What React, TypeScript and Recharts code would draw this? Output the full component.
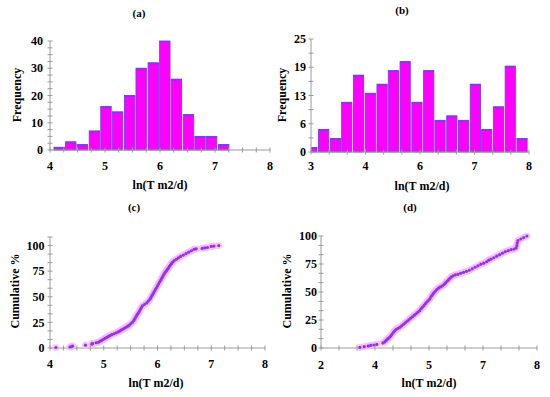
import React from 'react';
import { ComposedChart, ScatterChart, Bar, Scatter, XAxis, YAxis } from 'recharts';

// ---------- data ----------
const titles = ['(a)', '(b)', '(c)', '(d)'];
const xTitle = 'ln(T m2/d)';
const yTitleHist = 'Frequency';
const yTitleCum = 'Cumulative %';

const histACenters = [4.16, 4.37, 4.58, 4.8, 5.01, 5.22, 5.44, 5.65, 5.87, 6.08, 6.29, 6.51, 6.72, 6.93, 7.15];
const histACounts = [1, 3, 2, 7, 16, 14, 20, 30, 32, 40, 26, 13, 5, 5, 2];

const histBCenters = [3.01, 3.28, 3.55, 3.81, 4.08, 4.35, 4.62, 4.88, 5.15, 5.42, 5.69, 5.95, 6.22, 6.49, 6.76, 7.02, 7.29, 7.56, 7.83];
const histBCounts = [1, 5, 3, 11, 17, 13, 15, 18, 20, 11, 18, 7, 8, 7, 15, 5, 10, 19, 3];

const cumCX = [4.11, 4.37, 4.4, 4.42, 4.66, 4.78, 4.79, 4.86, 4.9, 4.93, 4.96, 4.99, 5.02, 5.05, 5.08, 5.11, 5.15, 5.19, 5.23, 5.27, 5.3, 5.33, 5.36, 5.39, 5.42, 5.45, 5.47, 5.5, 5.53, 5.56, 5.58, 5.6, 5.62, 5.64, 5.66, 5.68, 5.7, 5.72, 5.76, 5.8, 5.83, 5.86, 5.88, 5.9, 5.92, 5.94, 5.96, 5.98, 6.0, 6.02, 6.04, 6.06, 6.08, 6.1, 6.12, 6.14, 6.16, 6.18, 6.2, 6.22, 6.24, 6.26, 6.28, 6.31, 6.35, 6.39, 6.43, 6.48, 6.53, 6.58, 6.63, 6.68, 6.72, 6.83, 6.88, 6.93, 7.0, 7.05, 7.14];
const cumCY = [0.5, 1.0, 1.4, 1.9, 2.8, 3.7, 4.6, 5.1, 5.6, 6.5, 7.4, 8.3, 9.3, 10.2, 11.1, 12.0, 13.0, 13.9, 14.8, 15.7, 16.7, 17.6, 18.5, 19.4, 20.4, 21.3, 22.2, 23.6, 25.0, 26.9, 28.7, 30.6, 32.4, 33.8, 35.6, 37.5, 39.4, 41.2, 42.6, 44.0, 45.8, 47.7, 49.5, 51.4, 53.2, 55.1, 56.9, 58.8, 60.6, 62.5, 64.4, 66.2, 68.1, 70.0, 71.8, 73.6, 75.0, 76.4, 77.8, 79.6, 81.0, 82.4, 83.8, 85.2, 86.6, 88.0, 89.4, 90.7, 92.1, 93.5, 94.9, 96.3, 96.8, 97.2, 97.7, 98.1, 99.1, 99.5, 100];

const cumDX = [3.08, 3.2, 3.31, 3.38, 3.47, 3.55, 3.72, 3.77, 3.81, 3.85, 3.89, 3.93, 3.97, 4.01, 4.05, 4.09, 4.14, 4.19, 4.24, 4.29, 4.34, 4.39, 4.44, 4.49, 4.54, 4.59, 4.64, 4.69, 4.74, 4.78, 4.82, 4.86, 4.9, 4.94, 4.98, 5.02, 5.05, 5.08, 5.11, 5.14, 5.18, 5.22, 5.27, 5.32, 5.37, 5.42, 5.46, 5.5, 5.54, 5.58, 5.62, 5.67, 5.73, 5.8, 5.88, 5.96, 6.04, 6.12, 6.2, 6.28, 6.36, 6.44, 6.52, 6.6, 6.66, 6.72, 6.8, 6.88, 6.96, 7.04, 7.12, 7.2, 7.28, 7.36, 7.42, 7.44, 7.45, 7.47, 7.55, 7.63, 7.72];
const cumDY = [0.5, 1.2, 1.8, 2.3, 2.7, 3.2, 4.5, 5.4, 6.8, 8.1, 9.0, 10.4, 12.2, 14.0, 15.3, 16.7, 17.6, 18.5, 19.8, 21.2, 22.5, 23.9, 25.2, 26.6, 27.9, 29.3, 30.6, 32.0, 33.3, 35.1, 36.5, 37.8, 39.6, 41.0, 42.3, 43.7, 45.5, 46.8, 48.2, 49.5, 50.9, 52.3, 53.6, 54.5, 55.4, 56.8, 58.1, 59.5, 60.8, 62.2, 63.5, 64.4, 65.3, 65.8, 66.7, 67.6, 68.5, 69.4, 70.7, 72.1, 73.4, 74.8, 75.7, 77.0, 78.4, 79.3, 80.6, 82.0, 83.3, 84.7, 86.0, 86.9, 87.8, 88.3, 89.2, 91.4, 93.7, 95.9, 97.3, 98.6, 100];

// ticks (all tick marks) and labelled ticks
const aXTicks = [4, 4.25, 4.5, 4.75, 5, 5.25, 5.5, 5.75, 6, 6.25, 6.5, 6.75, 7, 7.25, 7.5, 7.75, 8];
const aXLabels = [4, 5, 6, 7, 8];
const aYTicks = [0, 2.5, 5, 7.5, 10, 12.5, 15, 17.5, 20, 22.5, 25, 27.5, 30, 32.5, 35, 37.5, 40];
const aYLabels = [0, 10, 20, 30, 40];

const bXTicks = [3, 3.4167, 3.8333, 4.25, 4.6667, 5.0833, 5.5, 5.9167, 6.3333, 6.75, 7.1667, 7.5833, 8];
const bXLabels = [3, 4.25, 5.5, 6.75, 8];
const bYTicks = [0, 3.125, 6.25, 9.375, 12.5, 15.625, 18.75, 21.875, 25];
const bYLabels = [0, 6.25, 12.5, 18.75, 25];

const cXTicks = [4, 4.25, 4.5, 4.75, 5, 5.25, 5.5, 5.75, 6, 6.25, 6.5, 6.75, 7, 7.25, 7.5, 7.75, 8];
const cXLabels = [4, 5, 6, 7, 8];
const cYTicks = [0, 8.3333, 16.6667, 25, 33.3333, 41.6667, 50, 58.3333, 66.6667, 75, 83.3333, 91.6667, 100, 108.3333];
const cYLabels = [0, 25, 50, 75, 100];

const dXTicks = [2, 2.5, 3, 3.5, 4, 4.5, 5, 5.5, 6, 6.5, 7, 7.5, 8];
const dXLabels = [2, 3.5, 5, 6.5, 8];
const dYTicks = [0, 8.3333, 16.6667, 25, 33.3333, 41.6667, 50, 58.3333, 66.6667, 75, 83.3333, 91.6667, 100];
const dYLabels = [0, 25, 50, 75, 100];

// ---------- style ----------
const FONT = '"Liberation Serif", "Times New Roman", serif';
const AXIS = '#9a9a9a';
const MAGENTA = '#ff00ff';
const PURPLE = '#7a3ee0';
const DOT = '#9234e6';
const HALO = '#f4b8f4';
const TICK_FS = 12;
const TITLE_FS = 12;

const histData = (cs: number[], ns: number[]) => cs.map((c, i) => ({ x: c, count: ns[i] }));
const cumData = (xs: number[], ys: number[]) => xs.map((x, i) => ({ x, y: ys[i] }));

const isIn = (v: number, arr: number[]) => arr.some((m) => Math.abs(m - v) < 1e-3);

const makeXTick = (labels: number[], size: number, margin: number) => (props: any) => {
  const { x, y, payload } = props;
  const v = payload.value;
  const ay = y - size - margin;
  return (
    <g>
      <line x1={x} x2={x} y1={ay - 2.5} y2={ay + 2.5} stroke={AXIS} strokeWidth={1} />
      {isIn(v, labels) && (
        <text x={x} y={y} dy="0.71em" textAnchor="middle" fontFamily={FONT} fontWeight="bold" fontSize={TICK_FS} fill="#000">
          {Math.round(v)}
        </text>
      )}
    </g>
  );
};

const makeYTick = (labels: number[], size: number, margin: number) => (props: any) => {
  const { x, y, payload } = props;
  const v = payload.value;
  const ax = x + size + margin;
  return (
    <g>
      <line x1={ax - 2.5} x2={ax + 2.5} y1={y} y2={y} stroke={AXIS} strokeWidth={1} />
      {isIn(v, labels) && (
        <text x={x} y={y} dy="0.35em" textAnchor="end" fontFamily={FONT} fontWeight="bold" fontSize={TICK_FS} fill="#000">
          {Math.round(v)}
        </text>
      )}
    </g>
  );
};

const HistBar = (props: any) => {
  const { x, y, width, height } = props;
  if (!height || height <= 0) return null;
  return (
    <g>
      <rect x={x} y={y} width={width} height={height} fill={MAGENTA} stroke={PURPLE} strokeWidth={0.9} />
      <line x1={x} x2={x + width} y1={y + 0.8} y2={y + 0.8} stroke={PURPLE} strokeWidth={1.6} />
    </g>
  );
};

const HaloDot = (props: any) => <circle cx={props.cx} cy={props.cy} r={3.6} fill={HALO} fillOpacity={0.7} />;
const Dot = (props: any) => <circle cx={props.cx} cy={props.cy} r={1.6} fill={DOT} />;

const textStyle: React.CSSProperties = {
  position: 'absolute',
  fontFamily: FONT,
  fontWeight: 'bold',
  whiteSpace: 'nowrap',
  color: '#000',
  lineHeight: 1,
};

const Label = ({ text, x, y, size, rotate }: { text: string; x: number; y: number; size: number; rotate?: boolean }) => (
  <div
    style={{
      ...textStyle,
      left: x,
      top: y,
      fontSize: size,
      transform: `translate(-50%, -50%)${rotate ? ' rotate(-90deg)' : ''}`,
    }}
  >
    {text}
  </div>
);

export default function App() {
  return (
    <div style={{ position: 'absolute', left: 0, top: 0, width: 550, height: 397, background: '#fff', overflow: 'hidden' }}>
      {/* (a) */}
      <div style={{ position: 'absolute', left: 0, top: 0 }}>
        <ComposedChart width={275} height={200} data={histData(histACenters, histACounts)} margin={{ top: 41, right: 5, bottom: 20, left: 10 }}>
          <XAxis
            dataKey="x"
            type="number"
            domain={[4, 8]}
            ticks={aXTicks}
            interval={0}
            allowDataOverflow
            height={30}
            tickSize={3}
            tickMargin={8}
            tickLine={false}
            axisLine={{ stroke: AXIS }}
            tick={makeXTick(aXLabels, 3, 8)}
          />
          <YAxis
            type="number"
            domain={[0, 40]}
            ticks={aYTicks}
            interval={0}
            width={40}
            tickSize={3}
            tickMargin={4}
            tickLine={false}
            axisLine={{ stroke: AXIS }}
            tick={makeYTick(aYLabels, 3, 4)}
          />
          <Bar dataKey="count" barSize={11.7} shape={HistBar} isAnimationActive={false} />
        </ComposedChart>
      </div>

      {/* (b) */}
      <div style={{ position: 'absolute', left: 275, top: 0 }}>
        <ComposedChart width={275} height={200} data={histData(histBCenters, histBCounts)} margin={{ top: 39, right: 21, bottom: 18, left: 10 }}>
          <XAxis
            dataKey="x"
            type="number"
            domain={[3, 8]}
            ticks={bXTicks}
            interval={0}
            allowDataOverflow
            height={30}
            tickSize={3}
            tickMargin={6.5}
            tickLine={false}
            axisLine={{ stroke: AXIS }}
            tick={makeXTick(bXLabels, 3, 6.5)}
          />
          <YAxis
            type="number"
            domain={[0, 25]}
            ticks={bYTicks}
            interval={0}
            width={26}
            tickSize={3}
            tickMargin={2}
            tickLine={false}
            axisLine={{ stroke: AXIS }}
            tick={makeYTick(bYLabels, 3, 2)}
          />
          <Bar dataKey="count" barSize={11.7} shape={HistBar} isAnimationActive={false} />
        </ComposedChart>
      </div>

      {/* (c) */}
      <div style={{ position: 'absolute', left: 0, top: 200 }}>
        <ScatterChart width={275} height={197} margin={{ top: 37, right: 10, bottom: 19, left: 10 }}>
          <XAxis
            dataKey="x"
            type="number"
            domain={[4, 8]}
            ticks={cXTicks}
            interval={0}
            allowDataOverflow
            height={30}
            tickSize={3}
            tickMargin={8.5}
            tickLine={false}
            axisLine={{ stroke: AXIS }}
            tick={makeXTick(cXLabels, 3, 8.5)}
          />
          <YAxis
            dataKey="y"
            type="number"
            domain={[0, 108.3333]}
            ticks={cYTicks}
            interval={0}
            width={40}
            tickSize={3}
            tickMargin={2.5}
            tickLine={false}
            axisLine={{ stroke: AXIS }}
            tick={makeYTick(cYLabels, 3, 2.5)}
          />
          <Scatter data={cumData(cumCX, cumCY)} shape={HaloDot} isAnimationActive={false} />
          <Scatter data={cumData(cumCX, cumCY)} shape={Dot} isAnimationActive={false} />
        </ScatterChart>
      </div>

      {/* (d) */}
      <div style={{ position: 'absolute', left: 275, top: 200 }}>
        <ScatterChart width={275} height={197} margin={{ top: 36, right: 13, bottom: 19, left: 10 }}>
          <XAxis
            dataKey="x"
            type="number"
            domain={[2, 8]}
            ticks={dXTicks}
            interval={0}
            allowDataOverflow
            height={30}
            tickSize={3}
            tickMargin={9}
            tickLine={false}
            axisLine={{ stroke: AXIS }}
            tick={makeXTick(dXLabels, 3, 9)}
          />
          <YAxis
            dataKey="y"
            type="number"
            domain={[0, 100]}
            ticks={dYTicks}
            interval={0}
            width={36}
            tickSize={3}
            tickMargin={1}
            tickLine={false}
            axisLine={{ stroke: AXIS }}
            tick={makeYTick(dYLabels, 3, 1)}
          />
          <Scatter data={cumData(cumDX, cumDY)} shape={HaloDot} isAnimationActive={false} />
          <Scatter data={cumData(cumDX, cumDY)} shape={Dot} isAnimationActive={false} />
        </ScatterChart>
      </div>

      {/* titles and axis labels */}
      <Label text={titles[0]} x={139} y={13} size={11} />
      <Label text={titles[1]} x={402} y={10} size={11} />
      <Label text={titles[2]} x={134} y={207} size={11} />
      <Label text={titles[3]} x={410} y={207} size={11} />

      <Label text={yTitleHist} x={17} y={95} size={TITLE_FS} rotate />
      <Label text={yTitleHist} x={282} y={95} size={TITLE_FS} rotate />
      <Label text={yTitleCum} x={15} y={291} size={TITLE_FS} rotate />
      <Label text={yTitleCum} x={287} y={291} size={TITLE_FS} rotate />

      <Label text={xTitle} x={160} y={185} size={TITLE_FS} />
      <Label text={xTitle} x={422} y={186} size={TITLE_FS} />
      <Label text={xTitle} x={156} y={383} size={TITLE_FS} />
      <Label text={xTitle} x={429} y={383} size={TITLE_FS} />
    </div>
  );
}
